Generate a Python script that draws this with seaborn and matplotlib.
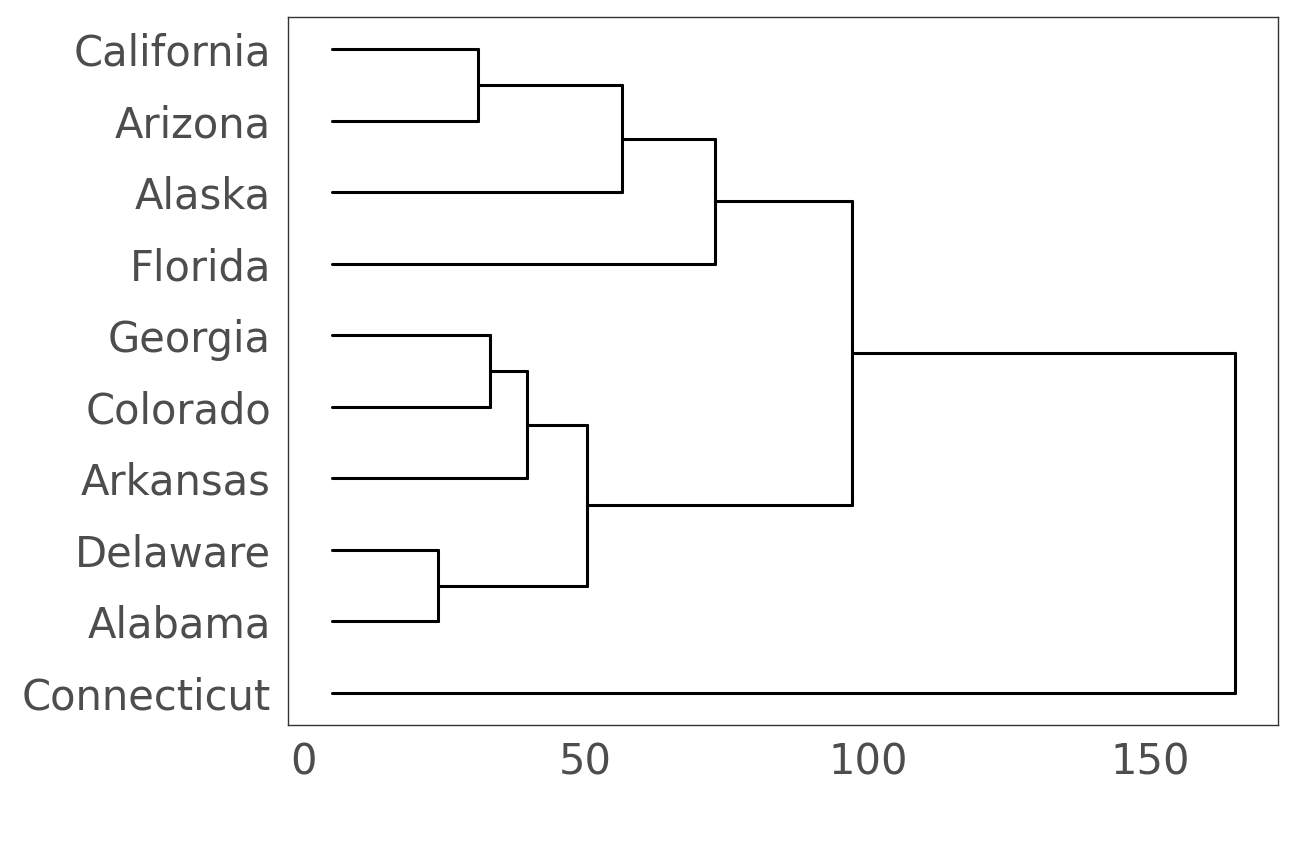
import matplotlib
matplotlib.use("Agg")
import matplotlib.pyplot as plt
import seaborn as sns
import pandas as pd

leaves = ["California", "Arizona", "Alaska", "Florida", "Georgia", "Colorado",
          "Arkansas", "Delaware", "Alabama", "Connecticut"]
leaf_height = 5.0
# merges: (left child, right child, height); children are leaf names or merge ids "m#"
merges = [
    ("California", "Arizona", 30.9),   # m0
    ("m0", "Alaska", 56.4),            # m1
    ("m1", "Florida", 73.0),           # m2
    ("Georgia", "Colorado", 33.0),     # m3
    ("m3", "Arkansas", 39.7),          # m4
    ("Delaware", "Alabama", 23.8),     # m5
    ("m4", "m5", 50.2),                # m6
    ("m2", "m6", 97.2),                # m7
    ("m7", "Connecticut", 165.1),      # m8
]
ticks = [0, 50, 100, 150]

pos = {name: (leaf_height, i) for i, name in enumerate(leaves)}
rows = []
seg = 0
for k, (a, b, h) in enumerate(merges):
    (xa, ya), (xb, yb) = pos[a], pos[b]
    for xs, ys in [([xa, h], [ya, ya]), ([h, h], [ya, yb]), ([xb, h], [yb, yb])]:
        for x, y in zip(xs, ys):
            rows.append({"x": x, "y": y, "seg": seg})
        seg += 1
    pos[f"m{k}"] = (h, (ya + yb) / 2)
df = pd.DataFrame(rows)

sns.set_theme(style="white")
plt.rcParams['font.family'] = ['DejaVu Sans']
fig = plt.figure(figsize=(12.96, 8.64), dpi=100)
ax = fig.add_axes([0.222, 0.161, 0.764, 0.819])
sns.lineplot(data=df, x="x", y="y", units="seg", estimator=None, sort=False,
             color="black", linewidth=2.2, ax=ax)
ax.set_xlim(-2.8, 172.7)
ax.set_ylim(9.45, -0.45)
ax.set_yticks(range(len(leaves)))
ax.set_yticklabels(leaves)
ax.set_xticks(ticks)
ax.set_xlabel("")
ax.set_ylabel("")
ax.tick_params(axis="both", labelsize=30, labelcolor="#4d4d4d", length=0, pad=12)
for s in ax.spines.values():
    s.set_color("#333333")
    s.set_linewidth(1.0)
fig.savefig("out.png", dpi=100)
